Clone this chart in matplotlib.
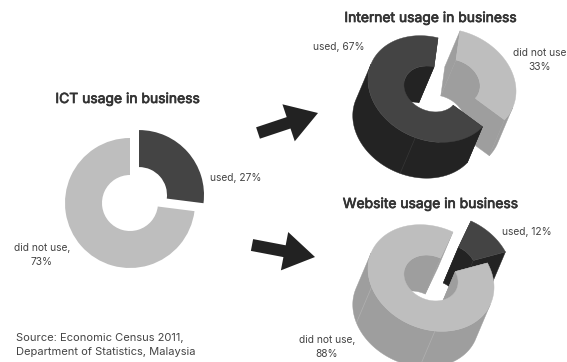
import numpy as np
import matplotlib
matplotlib.use("Agg")
import matplotlib.pyplot as plt
import matplotlib.patheffects as pe
from matplotlib.patches import FancyArrow

ict_values = [27, 73]
ict_labels = ["used, 27%", "did not use,\n73%"]
internet_values = [33, 67]
internet_labels = ["did not use\n33%", "used, 67%"]
website_values = [12, 88]
website_labels = ["used, 12%", "did not use,\n88%"]

DARK_TOP, DARK_SIDE = "#444444", "#232323"
LIGHT_TOP, LIGHT_SIDE = "#bebebe", "#9e9e9e"
TEXT = "#444444"

plt.rcParams["font.family"] = ["Inter", "DejaVu Sans"]

fig = plt.figure(figsize=(5.67, 3.62), dpi=100)
ax = fig.add_axes([0, 0, 1, 1])

# flat donut, y axis points down so angles run clockwise on screen
ax.pie(ict_values, center=(130, 203), radius=65, startangle=270, counterclock=True,
       explode=[12, 0], colors=[DARK_TOP, LIGHT_TOP],
       wedgeprops={"width": 37, "linewidth": 0})
ax.set_xlim(0, 567)
ax.set_ylim(362, 0)
ax.axis("off")

# tilted donut settings
major = np.array([0.92, 0.39])
minor = np.array([-0.39, 0.92])
rx, ry = 65, 51
hole = 0.43
depth = 39


def ring(center, r, deg):
    t = np.radians(deg)
    return (np.asarray(center) + np.outer(np.sin(t), major * rx * r)
            - np.outer(np.cos(t), minor * ry * r))


def runs(deg, mask):
    idx = np.flatnonzero(mask)
    if len(idx) < 2:
        return []
    return [deg[p] for p in np.split(idx, np.flatnonzero(np.diff(idx) > 1) + 1) if len(p) > 1]


def wall(center, r, deg, color):
    top = ring(center, r, deg)
    pts = np.vstack([top, (top + minor * depth)[::-1]])
    ax.fill(pts[:, 0], pts[:, 1], color=color, lw=0.3)


def slice3d(center, start, sweep, top_color, side_color, seams=()):
    deg = np.linspace(start, start + sweep, 200)
    c = np.cos(np.radians(deg))
    for part in runs(deg, c >= 0):
        wall(center, hole, part, side_color)
    # cut faces at both ends of the slice
    for a in (start, start + sweep):
        edge = np.vstack([ring(center, 1, [a]), ring(center, hole, [a])])
        pts = np.vstack([edge, (edge + minor * depth)[::-1]])
        ax.fill(pts[:, 0], pts[:, 1], color=side_color, lw=0.3)
    for part in runs(deg, c <= 0):
        wall(center, 1, part, side_color)
    for a in seams:
        p = ring(center, 1, [a])[0]
        ax.plot([p[0], p[0] + minor[0] * depth], [p[1], p[1] + minor[1] * depth],
                color=top_color, lw=0.5, alpha=0.6)
    pts = np.vstack([ring(center, 1, deg), ring(center, hole, deg[::-1])])
    ax.fill(pts[:, 0], pts[:, 1], color=top_color, lw=0.3)


def donut3d(center, offset, values, start, first, second, seams):
    # first slice is pulled out and sits behind the rest of the ring
    sweep = values[0] * 3.6
    moved = np.asarray(center) + np.asarray(offset)
    slice3d(moved, start, sweep, *first)
    slice3d(center, start + sweep, values[1] * 3.6, *second, seams=seams)


donut3d((431, 89), (22, -7), internet_values, -12,
        (LIGHT_TOP, LIGHT_SIDE), (DARK_TOP, DARK_SIDE), [176])
donut3d((431, 278), (18, -11), website_values, 2,
        (DARK_TOP, DARK_SIDE), (LIGHT_TOP, LIGHT_SIDE), [158, 232])

# arrows between the charts
for x, y, dx, dy in [(258, 133, 60, -20), (252, 245, 63, 12)]:
    ax.add_patch(FancyArrow(x, y, dx, dy, width=12, head_width=39, head_length=31,
                            length_includes_head=True, color="#222222", lw=0))

for s, x, y in [("ICT usage in business", 128, 99),
                ("Internet usage in business", 431, 18),
                ("Website usage in business", 431, 204)]:
    ax.text(x, y, s, ha="center", va="center", fontsize=10.0, color="#333333",
            path_effects=[pe.withStroke(linewidth=0.5, foreground="#333333")])

for s, x, y in [(ict_labels[0], 236, 178), (ict_labels[1], 42, 255),
                (internet_labels[1], 339, 47), (internet_labels[0], 540, 60),
                (website_labels[0], 527, 232), (website_labels[1], 327, 347)]:
    ax.text(x, y, s, ha="center", va="center", fontsize=7.35, color=TEXT, linespacing=1.4)

ax.text(16, 345, "Source: Economic Census 2011,\nDepartment of Statistics, Malaysia",
        ha="left", va="center", fontsize=8.0, color=TEXT, linespacing=1.6)

fig.savefig("out.png", dpi=100)
